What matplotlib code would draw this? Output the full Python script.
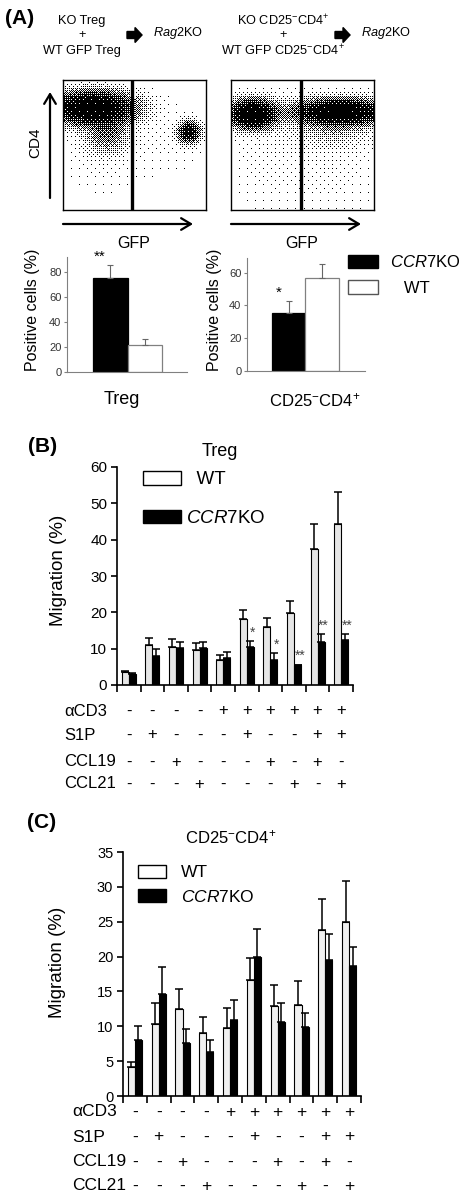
import numpy as np
import matplotlib.pyplot as plt
from matplotlib.patches import Patch, FancyArrow
from matplotlib.transforms import blended_transform_factory

plt.rcParams['font.family'] = ['Liberation Sans', 'DejaVu Sans']
plt.rcParams['mathtext.fontset'] = 'custom'
plt.rcParams['mathtext.rm'] = 'Liberation Sans'
plt.rcParams['mathtext.it'] = 'Liberation Sans:italic'

W, H = 465, 1199

# (A) co-transfer, % positive cells
a_series = ['$\\it{CCR7}$KO', '   WT']
a_treg = [75.5, 21.6]
a_treg_err = [10.0, 4.8]
a_cd25 = [35.7, 56.6]
a_cd25_err = [6.8, 8.5]
a_stars = ['**', '*']
facs_values = ['74.8', '38.6']

# dot plot clusters (box pixel units): centre x, centre y, spread x, spread y, weight
treg_cx = [30, 44, 40, 125, 108]
treg_cy = [28, 52, 60, 52, 60]
treg_sx = [22, 12, 26, 6, 22]
treg_sy = [9, 12, 28, 6, 22]
treg_w = [5.0, 0.9, 0.05, 3.0, 0.025]

cd25_cx = [22, 35, 108, 100, 100]
cd25_cy = [34, 72, 32, 46, 78]
cd25_sx = [13, 25, 24, 25, 30]
cd25_sy = [8, 35, 7, 12, 35]
cd25_w = [5.0, 0.035, 5.0, 0.35, 0.04]

# (B) Treg migration (%)
b_wt = [3.7, 11.1, 10.5, 9.7, 7.0, 18.1, 16.0, 19.8, 37.5, 44.3]
b_wt_err = [0.2, 1.9, 2.1, 1.9, 1.3, 2.5, 2.4, 3.2, 6.9, 8.9]
b_ko = [3.05, 8.1, 10.2, 10.2, 7.4, 10.4, 6.9, 5.4, 11.7, 12.3]
b_ko_err = [0.15, 1.9, 1.6, 1.6, 1.7, 1.7, 1.8, 0.2, 2.2, 1.6]
b_stars = ['', '', '', '', '', '*', '*', '**', '**', '**']

# (C) CD25-CD4+ migration (%)
c_wt = [4.1, 10.3, 12.5, 9.0, 9.8, 16.7, 12.9, 13.1, 23.8, 24.9]
c_wt_err = [0.8, 3.1, 2.8, 2.4, 2.8, 3.1, 3.0, 3.4, 4.4, 6.0]
c_ko = [8.0, 14.6, 7.6, 6.3, 10.9, 19.9, 10.6, 9.9, 19.5, 18.7]
c_ko_err = [2.1, 3.9, 2.0, 1.7, 2.8, 4.1, 2.8, 2.0, 3.8, 2.7]

row_names = ['αCD3', 'S1P', 'CCL19', 'CCL21']
acd3 = ['-', '-', '-', '-', '+', '+', '+', '+', '+', '+']
s1p = ['-', '+', '-', '-', '-', '+', '-', '-', '+', '+']
ccl19 = ['-', '-', '+', '-', '-', '-', '+', '-', '+', '-']
ccl21 = ['-', '-', '-', '+', '-', '-', '-', '+', '-', '+']
conditions = [acd3, s1p, ccl19, ccl21]

fig = plt.figure(figsize=(W / 100, H / 100), dpi=100)


def px_axes(x0, y0, x1, y1):
    return fig.add_axes([x0 / W, 1 - y1 / H, (x1 - x0) / W, (y1 - y0) / H])


ov = px_axes(0, 0, W, H)
ov.set_xlim(0, W)
ov.set_ylim(H, 0)
ov.axis('off')


def bayer(n):
    m = np.array([[0, 2], [3, 1]])
    while m.shape[0] < n:
        m = np.block([[4 * m, 4 * m + 2], [4 * m + 3, 4 * m + 1]])
    return (m + 0.5) / m.size


def dot_plot(ax, cx, cy, sx, sy, w, gate_x):
    bw, bh = 143, 130
    yy, xx = np.mgrid[0:bh, 0:bw] + 0.5
    dens = np.zeros_like(xx)
    for a, b, c, d, e in zip(cx, cy, sx, sy, w):
        dens += e * np.exp(-0.5 * (((xx - a) / c) ** 2 + ((yy - b) / d) ** 2))
    p = 1 - np.exp(-dens)
    thr = np.tile(bayer(8), (bh // 8 + 1, bw // 8 + 1))[:bh, :bw]
    dots = (p > thr).astype(float)
    ax.imshow(dots, cmap='gray_r', vmin=0, vmax=1, extent=(0, bw, bh, 0),
              interpolation='nearest', aspect='auto')
    ax.axvline(gate_x, color='black', lw=2.4)
    ax.set_xlim(0, bw)
    ax.set_ylim(bh, 0)
    ax.set_xticks([])
    ax.set_yticks([])
    for s in ax.spines.values():
        s.set_linewidth(1.0)


# ---------------- (A) header ----------------
ov.text(5, 18, '(A)', fontsize=15, fontweight='bold', va='center')
for cx, lines in [(82, ['KO Treg', '+', 'WT GFP Treg']),
                  (283, ['KO CD25$^{-}$CD4$^{+}$', '+', 'WT GFP CD25$^{-}$CD4$^{+}$'])]:
    for y, s in zip([21, 35, 51], lines):
        ov.text(cx, y, s, fontsize=9.2, ha='center', va='center')
for x0, xt in [(127, 153), (335, 361)]:
    ov.add_patch(FancyArrow(x0, 35, 8, 0, width=7, head_width=15, head_length=7,
                            length_includes_head=False, color='black'))
    ov.text(xt, 33, '$\\it{Rag}$2KO', fontsize=9.2, va='center')

ax1 = px_axes(63, 80, 206, 210)
dot_plot(ax1, treg_cx, treg_cy, treg_sx, treg_sy, treg_w, 69)
ax2 = px_axes(231, 80, 374, 210)
dot_plot(ax2, cd25_cx, cd25_cy, cd25_sx, cd25_sy, cd25_w, 70)
ov.text(95, 191, facs_values[0], fontsize=12, ha='center', va='center')
ov.text(263, 191, facs_values[1], fontsize=12, ha='center', va='center')

arr = dict(arrowstyle='->,head_length=0.5,head_width=0.3', lw=1.6, color='black',
           shrinkA=0, shrinkB=0, mutation_scale=14)
ov.annotate('', xy=(50, 92), xytext=(50, 198), arrowprops=arr)
ov.annotate('', xy=(193, 224), xytext=(63, 224), arrowprops=arr)
ov.annotate('', xy=(361, 224), xytext=(231, 224), arrowprops=arr)
ov.text(35, 143, 'CD4', fontsize=11, rotation=90, ha='center', va='center')
ov.text(134, 243, 'GFP', fontsize=11.5, ha='center', va='center')
ov.text(302, 243, 'GFP', fontsize=11.5, ha='center', va='center')

# ---------------- (A) bars ----------------
a_colors = ['black', 'white']
a_edges = ['black', '#808080']
axA1 = px_axes(67, 257, 187, 372)
axA2 = px_axes(247, 258, 365, 371)
for ax, vals, errs, ylim, star, xl in [(axA1, a_treg, a_treg_err, 92, a_stars[0], (-1.25, 2.22)),
                                       (axA2, a_cd25, a_cd25_err, 69, a_stars[1], (-1.24, 2.27))]:
    for i in range(2):
        ax.bar(i, vals[i], width=1, color=a_colors[i], edgecolor=a_edges[i], lw=0.9,
               yerr=[[0], [errs[i]]], ecolor='#666666', capsize=2,
               error_kw=dict(elinewidth=0.8, capthick=0.8))
    ax.text(-0.3, vals[0] + errs[0] + 1, star, fontsize=11, ha='center', va='bottom')
    ax.set_xlim(*xl)
    ax.set_ylim(0, ylim)
    ax.set_yticks(range(0, ylim, 20))
    ax.set_xticks([])
    for s in ['top', 'right']:
        ax.spines[s].set_visible(False)
    for s in ['left', 'bottom']:
        ax.spines[s].set_color('#808080')
    ax.tick_params(axis='y', labelsize=8, length=2, color='#808080', labelcolor='#333333', pad=2)
    ax.patch.set_alpha(0)

ov.text(32, 310, 'Positive cells (%)', fontsize=11.5, rotation=90, ha='center', va='center')
ov.text(214, 310, 'Positive cells (%)', fontsize=11.5, rotation=90, ha='center', va='center')
ov.text(122, 400, 'Treg', fontsize=13, ha='center', va='center')
ov.text(315, 400, 'CD25$^{-}$CD4$^{+}$', fontsize=12, ha='center', va='center')
legA = fig.legend([Patch(facecolor='black', edgecolor='black'),
                   Patch(facecolor='white', edgecolor='#555555')], a_series,
                  loc='upper left', bbox_to_anchor=(348, 254), bbox_transform=ov.transData,
                  frameon=False, fontsize=12, handlelength=1.8, handleheight=0.85,
                  handletextpad=0.7, labelspacing=0.62, borderpad=0, borderaxespad=0)


# ---------------- (B) and (C) ----------------
def migration(ax, wt, wt_err, ko, ko_err, top, step, wt_face, labelsize):
    x = np.arange(len(wt))
    z = np.zeros(len(wt))
    ax.bar(x - 0.15, wt, width=0.3, color=wt_face, edgecolor='black', lw=0.8,
           yerr=[z, wt_err], capsize=3.2, error_kw=dict(elinewidth=1.1, capthick=1.1))
    ax.bar(x + 0.15, ko, width=0.3, color='black', edgecolor='black', lw=0.8,
           yerr=[z, ko_err], capsize=3.2, error_kw=dict(elinewidth=1.1, capthick=1.1))
    ax.set_xlim(-0.5, len(wt) - 0.5)
    ax.set_ylim(0, top)
    ax.set_yticks(np.arange(0, top + 1, step))
    ax.set_xticks(np.arange(-0.5, len(wt), 1))
    ax.set_xticklabels([])
    for s in ['top', 'right']:
        ax.spines[s].set_visible(False)
    for s in ['left', 'bottom']:
        ax.spines[s].set_linewidth(1.2)
    ax.tick_params(axis='x', length=5, width=1.2)
    ax.tick_params(axis='y', length=4, width=1.2, labelsize=labelsize, pad=3)
    ax.patch.set_alpha(0)
    return x


def condition_rows(ax, x, ys, xlab, size):
    tr = blended_transform_factory(ax.transData, ov.transData)
    for name, row, y in zip(row_names, conditions, ys):
        ov.text(xlab, y, name, fontsize=size, ha='left', va='center')
        for xi, s in zip(x, row):
            ax.text(xi, y, s, transform=tr, fontsize=size, ha='center', va='center')


ov.text(28, 447, '(B)', fontsize=15, fontweight='bold', va='center')
ov.text(220, 452, 'Treg', fontsize=13, ha='center', va='center')
axB = px_axes(117, 467, 353, 685)
xb = migration(axB, b_wt, b_wt_err, b_ko, b_ko_err, 60, 10, '#e6e6e6', 11)
for i, s in enumerate(b_stars):
    if s:
        axB.text(xb[i] + 0.25, b_ko[i] + b_ko_err[i] + 0.4, s, fontsize=10,
                 color='#444444', ha='center', va='bottom')
ov.text(58, 570, 'Migration (%)', fontsize=13.5, rotation=90, ha='center', va='center')
axB.legend([Patch(facecolor='white', edgecolor='black'), Patch(facecolor='black', edgecolor='black')],
           ['  WT', '$\\it{CCR7}$KO'], loc='upper left', bbox_to_anchor=(143, 471),
           bbox_transform=ov.transData, frameon=False, fontsize=13.5, handlelength=2.0,
           handleheight=0.75, handletextpad=0.27, labelspacing=1.13, borderpad=0, borderaxespad=0)
condition_rows(axB, xb, [711, 735, 762, 784], 64, 12)

ov.text(27, 823, '(C)', fontsize=15, fontweight='bold', va='center')
ov.text(231, 837, 'CD25$^{-}$CD4$^{+}$', fontsize=12, ha='center', va='center')
axC = px_axes(123, 852, 361, 1096)
xc = migration(axC, c_wt, c_wt_err, c_ko, c_ko_err, 35, 5, '#f0f0f0', 10.5)
ov.text(57, 962, 'Migration (%)', fontsize=13.5, rotation=90, ha='center', va='center')
axC.legend([Patch(facecolor='white', edgecolor='black'), Patch(facecolor='black', edgecolor='black')],
           ['WT', '$\\it{CCR7}$KO'], loc='upper left', bbox_to_anchor=(138, 865),
           bbox_transform=ov.transData, frameon=False, fontsize=12.5, handlelength=1.6,
           handleheight=0.75, handletextpad=0.86, labelspacing=0.47, borderpad=0, borderaxespad=0)
condition_rows(axC, xc, [1112, 1137, 1162, 1186], 72, 12.5)

fig.savefig('out.png', dpi=100)
